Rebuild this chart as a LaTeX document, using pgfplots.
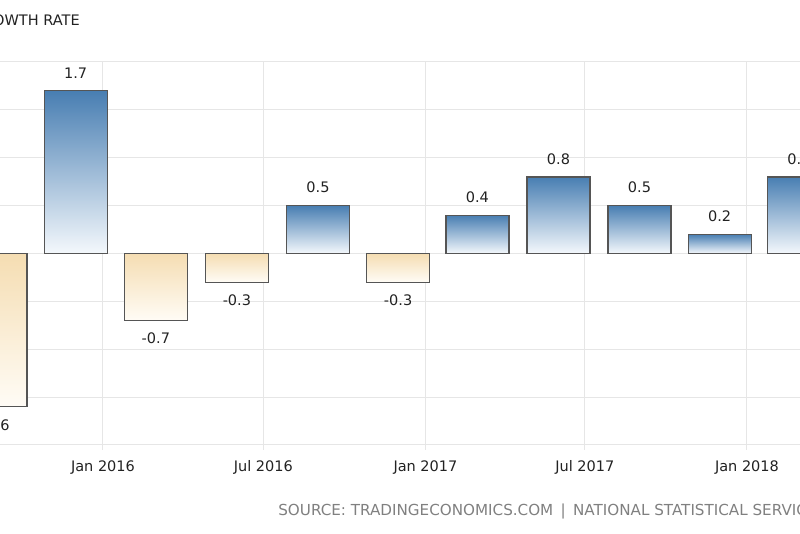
\documentclass[border=0pt]{standalone}
\usepackage{pgfplots}
\pgfplotsset{compat=1.18}
\usepackage{fontspec}
\setmainfont{DejaVu Sans}
\definecolor{barblue}{RGB}{72,126,178}
\definecolor{barbluelight}{RGB}{244,248,252}
\definecolor{bartan}{RGB}{245,221,178}
\definecolor{bartanlight}{RGB}{255,252,246}
\definecolor{gridgray}{RGB}{230,230,230}
\definecolor{edgegray}{RGB}{85,85,85}
\definecolor{srcgray}{RGB}{128,128,128}
\definecolor{txt}{RGB}{34,34,34}
\begin{document}
\begin{tikzpicture}
\useasboundingbox (0,0) rectangle (480pt,320.4pt);
\clip (0,0) rectangle (480pt,320.4pt);
\begin{axis}[
  at={(-6.925pt,53.4pt)}, anchor=south west,
  scale only axis, width=486.94pt, height=229.8pt,
  xmin=-130, xmax=791.2, ymin=-2, ymax=2,
  axis line style={draw=none},
  ytick={-2,-1.5,-1,-0.5,0,0.5,1,1.5,2},
  yticklabels={}, ytick style={draw=none},
  xtick={0,182,366,547,731},
  xticklabels={Jan 2016,Jul 2016,Jan 2017,Jul 2017,Jan 2018},
  xtick pos=left, tick align=outside, major tick length=3pt,
  xtick style={draw=gridgray, line width=0.6pt},
  xticklabel style={anchor=base, yshift=-13.2pt, font=\fontsize{8.7}{10}\selectfont, text=txt},
  grid=major, grid style={gridgray, line width=0.6pt},
  ybar, bar shift=0pt, bar width=71.5,
  nodes near coords, point meta=explicit symbolic,
  every node near coord/.append style={font=\fontsize{8.7}{10}\selectfont, text=txt, inner sep=7.2pt},
  pos/.style={draw=edgegray, line width=0.8pt, top color=barblue, bottom color=barbluelight, nodes near coords align=above},
  neg/.style={draw=edgegray, line width=0.8pt, top color=bartan, bottom color=bartanlight, nodes near coords align=below},
]
\addplot[neg] coordinates {(-122,-1.6) [-1.6]};
\addplot[pos] coordinates {(-31,1.7) [1.7]};
\addplot[neg] coordinates {(60,-0.7) [-0.7]};
\addplot[neg] coordinates {(152,-0.3) [-0.3]};
\addplot[pos] coordinates {(244,0.5) [0.5]};
\addplot[neg] coordinates {(335,-0.3) [-0.3]};
\addplot[pos] coordinates {(425,0.4) [0.4]};
\addplot[pos] coordinates {(517,0.8) [0.8]};
\addplot[pos] coordinates {(609,0.5) [0.5]};
\addplot[pos] coordinates {(700,0.2) [0.2]};
\addplot[pos] coordinates {(790,0.8) [0.8]};
\end{axis}
\node[anchor=base east, inner sep=0pt, font=\fontsize{8.7}{10}\selectfont, text=txt] at (48pt,304.8pt) {GREECE GDP GROWTH RATE};
\node[anchor=base west, inner sep=0pt, font=\fontsize{9.1}{10}\selectfont, text=srcgray] at (166.8pt,10.8pt) {SOURCE: TRADINGECONOMICS.COM \,|\, NATIONAL STATISTICAL SERVICE OF GREECE};
\end{tikzpicture}
\end{document}
